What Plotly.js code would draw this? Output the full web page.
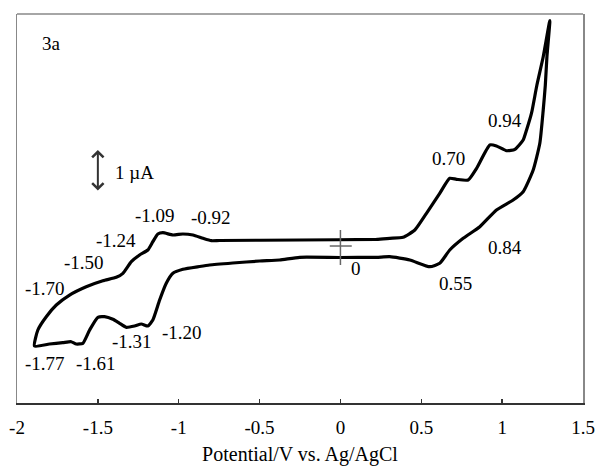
<!DOCTYPE html>
<html>
<head>
<meta charset="utf-8">
<script src="https://cdn.plot.ly/plotly-3.0.1.min.js"></script>
<style>html,body{margin:0;padding:0;background:#fff;}#chart{width:595px;height:467px;}</style>
</head>
<body>
<div id="chart"></div>
<script>
// Potential (V vs. Ag/AgCl) and current (µA, arbitrary offset), closed CV loop
const potential = [
  -1.892,-1.871,-1.819,-1.757,-1.675,-1.572,-1.469,-1.386,-1.345,-1.293,-1.242,-1.191,-1.160,-1.129,-1.098,
  -1.036,-0.974,-0.912,-0.850,-0.798,-0.747,-0.252,0.223,0.305,0.387,0.460,0.532,0.614,0.676,0.718,
  0.790,0.842,0.924,0.965,1.027,1.079,1.130,1.151,1.182,1.215,1.254,1.295,
  1.277,1.267,1.254,1.233,1.192,1.130,1.068,0.965,0.862,0.759,0.676,0.614,0.553,0.429,0.305,0.223,
  -0.004,-0.252,-0.376,-0.499,-0.666,-0.809,-0.871,-0.974,-1.036,-1.077,-1.118,-1.160,-1.191,-1.231,
  -1.273,-1.324,-1.366,-1.407,-1.459,-1.500,-1.551,-1.593,-1.634,-1.665,-1.717,-1.799,-1.892
];
const current = [
  -2.381,-2.000,-1.683,-1.405,-1.167,-0.969,-0.826,-0.745,-0.650,-0.374,-0.214,-0.095,0.102,0.286,0.317,
  0.262,0.286,0.262,0.183,0.126,0.131,0.143,0.160,0.183,0.207,0.381,0.779,1.255,1.612,1.588,
  1.571,1.850,2.405,2.381,2.269,2.302,2.524,2.762,3.167,3.833,4.507,5.369,
  4.507,3.833,3.238,2.445,1.810,1.293,1.095,0.857,0.460,0.183,-0.095,-0.412,-0.493,-0.333,-0.255,-0.269,
  -0.274,-0.269,-0.333,-0.357,-0.405,-0.452,-0.488,-0.555,-0.650,-0.888,-1.286,-1.762,-1.905,-1.857,
  -1.905,-1.936,-1.840,-1.745,-1.683,-1.698,-2.000,-2.317,-2.333,-2.279,-2.302,-2.333,-2.381
];
// Peak labels
const peakLabels = ["-1.09","-0.92","-1.24","-1.50","-1.70","-1.77","-1.61","-1.31","-1.20","0.94","0.70","0.84","0.55","0"];
const peakLabelX = [-1.149,-0.803,-1.390,-1.588,-1.824,-1.824,-1.514,-1.291,-0.982,1.017,0.670,1.017,0.713,0.095];
const peakLabelY = [0.738,0.667,0.143,-0.381,-1.0,-2.786,-2.786,-2.262,-2.071,3.0,2.095,-0.024,-0.881,-0.524];
// Axis ticks
const tickValues = [-2,-1.5,-1,-0.5,0,0.5,1,1.5];
const tickLabels = ["-2","-1.5","-1","-0.5","0","0.5","1","1.5"];
// Scale bar: 1 µA
const scaleBarX = -1.50;
const scaleBarFrom = 1.286;
const scaleBarValue = 1;

const serif = "Liberation Serif, Times New Roman, serif";

const annotations = peakLabels.map((t,i)=>({
  x: peakLabelX[i], y: peakLabelY[i], xref:'x', yref:'y', text: t, showarrow:false,
  font:{family:serif,size:19,color:'#000'}, xanchor:'center', yanchor:'middle'
}));
annotations.push({x:-1.787,y:4.833,xref:'x',yref:'y',text:'3a',showarrow:false,
  font:{family:serif,size:19,color:'#000'},xanchor:'center',yanchor:'middle'});
annotations.push({x:-1.409,y:1.762,xref:'x',yref:'y',text:'1 µA',showarrow:false,
  font:{family:serif,size:19,color:'#000'},xanchor:'left',yanchor:'middle'});
annotations.push({x:scaleBarX,y:scaleBarFrom+scaleBarValue,ax:scaleBarX,ay:scaleBarFrom,
  xref:'x',yref:'y',axref:'x',ayref:'y',text:'',showarrow:true,arrowside:'end+start',
  arrowhead:4,arrowsize:1.1,arrowwidth:2,arrowcolor:'#333'});

const data = [{
  x: potential, y: current, type:'scatter', mode:'lines',
  line:{color:'#000',width:3.2,shape:'spline',smoothing:0.5},
  hoverinfo:'skip'
}];

const layout = {
  width:595, height:467,
  margin:{l:17,r:12,t:14,b:64,pad:0},
  paper_bgcolor:'#fff', plot_bgcolor:'#fff',
  showlegend:false,
  xaxis:{
    range:[-2,1.5], tickvals:tickValues, ticktext:tickLabels,
    ticks:'inside', ticklen:4, tickwidth:1.5, tickcolor:'#333',
    showline:true, linecolor:'#333', linewidth:2, mirror:false,
    showgrid:false, zeroline:false,
    tickfont:{family:serif,size:19,color:'#000'},
    ticklabelstandoff:6,
    title:{text:'Potential/V vs. Ag/AgCl',font:{family:serif,size:20,color:'#000'},standoff:10}
  },
  yaxis:{
    range:[-3.738,5.524], showticklabels:false, ticks:'',
    showline:true, linecolor:'#888', linewidth:1.5, mirror:true,
    showgrid:false, zeroline:false
  },
  shapes:[
    {type:'line',xref:'paper',yref:'paper',x0:0,x1:1,y0:1,y1:1,line:{color:'#888',width:1.5}},
    {type:'line',xref:'x',yref:'y',x0:0,x1:0,y0:0.381,y1:-0.452,line:{color:'#666',width:1.5}},
    {type:'line',xref:'x',yref:'y',x0:-0.066,x1:0.070,y0:0,y1:0,line:{color:'#666',width:1.5}}
  ],
  annotations:annotations
};

Plotly.newPlot('chart', data, layout, {displayModeBar:false, staticPlot:true});
</script>
</body>
</html>
